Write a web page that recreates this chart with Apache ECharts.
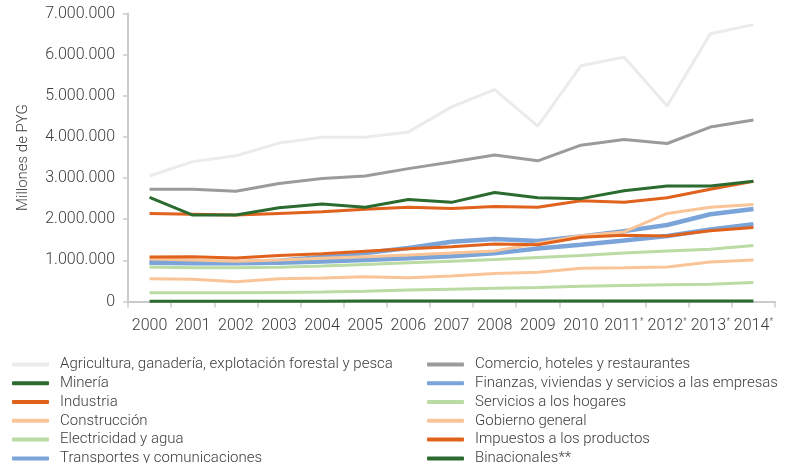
<!DOCTYPE html>
<html>
<head>
<meta charset="utf-8">
<script src="https://cdn.jsdelivr.net/npm/echarts@6/dist/echarts.min.js"></script>
<style>
  html, body { margin: 0; padding: 0; background: #fff; }
  #chart { width: 791px; height: 463px; }
</style>
</head>
<body>
<div id="chart"></div>
<script>
// Years on the category axis; provisional years carry an asterisk
const years = ['2000','2001','2002','2003','2004','2005','2006','2007','2008','2009','2010','2011*','2012*','2013*','2014*'];
const yTicks = [0, 1000000, 2000000, 3000000, 4000000, 5000000, 6000000, 7000000];

// Valor agregado por sector, millones de PYG
const agricultura   = [3050000, 3400000, 3540000, 3850000, 3990000, 3990000, 4120000, 4730000, 5150000, 4260000, 5730000, 5940000, 4750000, 6510000, 6730000];
const mineria       = [8000, 8000, 8000, 9000, 9000, 10000, 10000, 11000, 11000, 12000, 12000, 13000, 13000, 14000, 14000];
const industria     = [2140000, 2120000, 2100000, 2140000, 2180000, 2240000, 2290000, 2260000, 2310000, 2290000, 2450000, 2410000, 2520000, 2730000, 2920000];
const construccion  = [550000, 540000, 480000, 550000, 570000, 600000, 580000, 620000, 680000, 710000, 810000, 820000, 840000, 960000, 1010000];
const electricidad  = [210000, 210000, 210000, 220000, 230000, 250000, 280000, 300000, 320000, 340000, 370000, 390000, 410000, 420000, 460000];
const transportes   = [960000, 950000, 950000, 990000, 1080000, 1180000, 1300000, 1450000, 1520000, 1470000, 1580000, 1710000, 1860000, 2120000, 2250000];
const comercio      = [2730000, 2730000, 2680000, 2870000, 2990000, 3050000, 3230000, 3390000, 3560000, 3420000, 3800000, 3940000, 3840000, 4240000, 4410000];
const finanzas      = [940000, 930000, 930000, 940000, 970000, 1010000, 1050000, 1100000, 1170000, 1290000, 1380000, 1480000, 1590000, 1750000, 1880000];
const hogares       = [840000, 820000, 820000, 830000, 860000, 900000, 940000, 980000, 1020000, 1070000, 1120000, 1180000, 1230000, 1270000, 1360000];
const gobierno      = [1030000, 1010000, 980000, 1010000, 1050000, 1090000, 1130000, 1180000, 1230000, 1410000, 1600000, 1690000, 2140000, 2290000, 2360000];
const impuestos     = [1080000, 1090000, 1060000, 1120000, 1160000, 1220000, 1280000, 1330000, 1400000, 1380000, 1560000, 1610000, 1590000, 1720000, 1800000];
const binacionales  = [2530000, 2100000, 2100000, 2280000, 2370000, 2290000, 2480000, 2410000, 2650000, 2520000, 2500000, 2690000, 2810000, 2810000, 2920000];

const C = {
  lightGray: '#ebebeb',
  gray: '#9b9b9b',
  darkGreen: '#2c6b30',
  orange: '#e1621c',
  lightOrange: '#f9c598',
  lightGreen: '#badba3',
  blue: '#7ba4d9'
};

const seriesDefs = [
  { name: 'Agricultura, ganadería, explotación forestal y pesca', data: agricultura, color: C.lightGray, width: 3 },
  { name: 'Minería', data: mineria, color: C.darkGreen, width: 3 },
  { name: 'Industria', data: industria, color: C.orange, width: 3 },
  { name: 'Construcción', data: construccion, color: C.lightOrange, width: 3 },
  { name: 'Electricidad y agua', data: electricidad, color: C.lightGreen, width: 3 },
  { name: 'Transportes y comunicaciones', data: transportes, color: C.blue, width: 4.5 },
  { name: 'Comercio, hoteles y restaurantes', data: comercio, color: C.gray, width: 3 },
  { name: 'Finanzas, viviendas y servicios a las empresas', data: finanzas, color: C.blue, width: 4.5 },
  { name: 'Servicios a los hogares', data: hogares, color: C.lightGreen, width: 3 },
  { name: 'Gobierno general', data: gobierno, color: C.lightOrange, width: 3 },
  { name: 'Impuestos a los productos', data: impuestos, color: C.orange, width: 3 },
  { name: 'Binacionales**', data: binacionales, color: C.darkGreen, width: 3 }
];

const FONT = 'Roboto';
const TEXT = '#3c3c3c';
const AXIS = '#cbcbcb';

const legendBase = {
  orient: 'vertical',
  icon: 'roundRect',
  itemWidth: 37,
  itemHeight: 4,
  itemGap: 0,
  padding: 0,
  height: 140,
  selectedMode: false,
  textStyle: { fontFamily: FONT, fontWeight: 300, fontSize: 15, color: TEXT, lineHeight: 18.8, padding: [0, 0, 0, 6] }
};

const chart = echarts.init(document.getElementById('chart'), null, { renderer: 'canvas' });
chart.setOption({
  animation: false,
  backgroundColor: '#fff',
  grid: { left: 128, right: 16, top: 13.5, bottom: 161.5, containLabel: false },
  legend: [
    Object.assign({}, legendBase, { left: 12, top: 355, data: seriesDefs.slice(0, 6).map(s => s.name) }),
    Object.assign({}, legendBase, { left: 427, top: 355, data: seriesDefs.slice(6).map(s => s.name) })
  ],
  xAxis: {
    type: 'category',
    data: years,
    boundaryGap: true,
    axisLine: { lineStyle: { color: AXIS, width: 2 } },
    axisTick: { show: true, length: 6, lineStyle: { color: AXIS, width: 1.5 } },
    axisLabel: {
      interval: 0,
      hideOverlap: false,
      margin: 16,
      color: TEXT,
      fontFamily: FONT,
      fontWeight: 300,
      fontSize: 16,
      formatter: v => v.endsWith('*') ? v.slice(0, -1) + '{s|*}' : v,
      rich: { s: { fontSize: 9, verticalAlign: 'top', color: TEXT, fontFamily: FONT, padding: [0, 0, 6, 0] } }
    }
  },
  yAxis: {
    type: 'value',
    min: yTicks[0],
    max: yTicks[yTicks.length - 1],
    interval: 1000000,
    name: 'Millones de PYG',
    nameLocation: 'middle',
    nameGap: 97,
    nameTextStyle: { fontFamily: FONT, fontWeight: 300, fontSize: 15, color: TEXT },
    axisLine: { show: true, lineStyle: { color: AXIS, width: 2 } },
    axisTick: { show: true, length: 5, lineStyle: { color: AXIS, width: 1.5 } },
    splitLine: { show: false },
    axisLabel: {
      margin: 13,
      color: TEXT,
      fontFamily: FONT,
      fontWeight: 300,
      fontSize: 16,
      formatter: v => v.toLocaleString('de-DE')
    }
  },
  series: seriesDefs.map(s => ({
    name: s.name,
    type: 'line',
    data: s.data,
    symbol: 'none',
    color: s.color,
    lineStyle: { color: s.color, width: s.width },
    itemStyle: { color: s.color },
    emphasis: { disabled: true }
  }))
});
</script>
</body>
</html>
